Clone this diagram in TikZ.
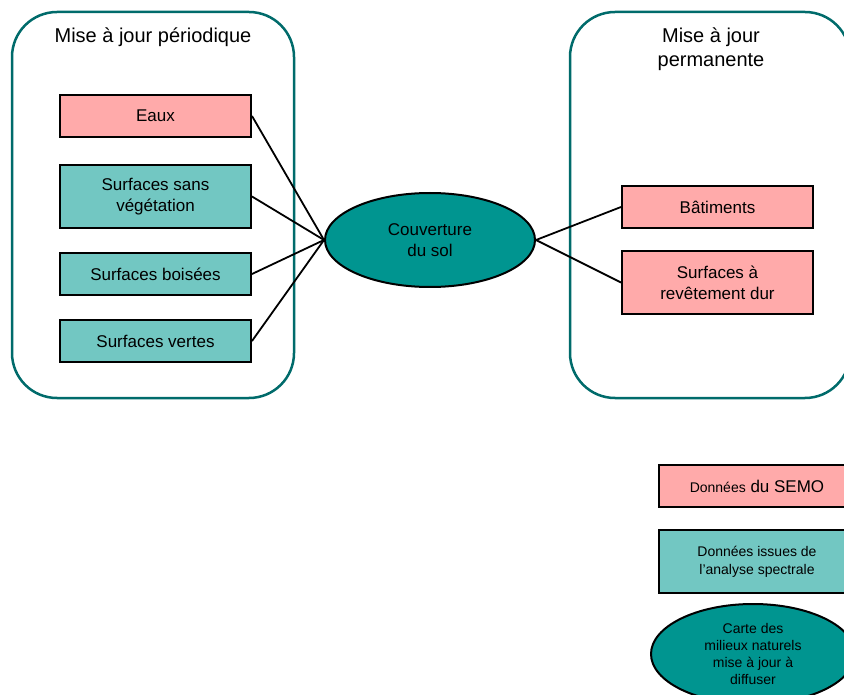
\documentclass[tikz,border=0pt]{standalone}
\usepackage{fontspec}
\setmainfont{Liberation Sans}
\usepackage{xcolor}
\usepackage{tikz}
\usetikzlibrary{shapes.geometric,positioning}

\definecolor{semo}{HTML}{FFAAAA}
\definecolor{spectral}{HTML}{72C7C2}
\definecolor{carte}{HTML}{009590}
\definecolor{cadre}{HTML}{006B6B}

\begin{document}
\begin{tikzpicture}[
    x=1pt, y=-1pt,
    container/.style={draw=cadre, line width=2.5pt, rounded corners=45pt, fill=white},
    titre/.style={align=center, font=\fontsize{20}{24}\selectfont},
    box/.style={draw=black, line width=2pt, minimum width=191pt, minimum height=42pt,
        align=center, inner sep=0pt, font=\fontsize{17}{21}\selectfont},
    semobox/.style={box, fill=semo},
    specbox/.style={box, fill=spectral},
    carte/.style={ellipse, draw=black, line width=2pt, fill=carte, align=center, inner sep=0pt},
    lien/.style={line width=1.8pt}
]
\useasboundingbox (0,0) rectangle (844,695);

% cadres
\node[container, minimum width=282pt, minimum height=386pt] (periodique) at (153,205) {};
\node[container, minimum width=280pt, minimum height=386pt] (permanente) at (710,205) {};
\node[titre] (titreper) at (153,37) {Mise à jour périodique};
\node[titre] (titreperm) at (711,49) {Mise à jour\\permanente};

% couverture du sol
\node[carte, minimum width=210pt, minimum height=94pt, font=\fontsize{17}{21}\selectfont] (couv) at (430,240) {Couverture\\du sol};

% mise a jour periodique
\node[semobox] (eaux) at (155.5,116) {Eaux};
\node[specbox, minimum height=63pt] (sansveg) at (155.5,196.5) {Surfaces sans\\végétation};
\node[specbox] (boisees) at (155.5,274) {Surfaces boisées};
\node[specbox] (vertes) at (155.5,341) {Surfaces vertes};

% mise a jour permanente
\node[semobox] (batiments) at (717.5,207) {Bâtiments};
\node[semobox, minimum height=63pt] (revetement) at (717.5,282.5) {Surfaces à\\revêtement dur};

\foreach \n in {eaux,sansveg,boisees,vertes}
    \draw[lien] (\n.east) -- (couv.west);
\foreach \n in {batiments,revetement}
    \draw[lien] (couv.east) -- (\n.west);

% legende
\node[semobox, minimum width=196pt] (legsemo) at (757,486) {{\fontsize{14}{17}\selectfont Données} du SEMO};
\node[specbox, minimum width=196pt, minimum height=63pt, font=\fontsize{14}{18}\selectfont] (legspec) at (757,561.5) {Données issues de\\l’analyse spectrale};
\node[carte, minimum width=204pt, minimum height=100pt, font=\fontsize{14}{17}\selectfont] (legcarte) at (753,654) {Carte des\\milieux naturels\\mise à jour à\\diffuser};
\end{tikzpicture}
\end{document}
